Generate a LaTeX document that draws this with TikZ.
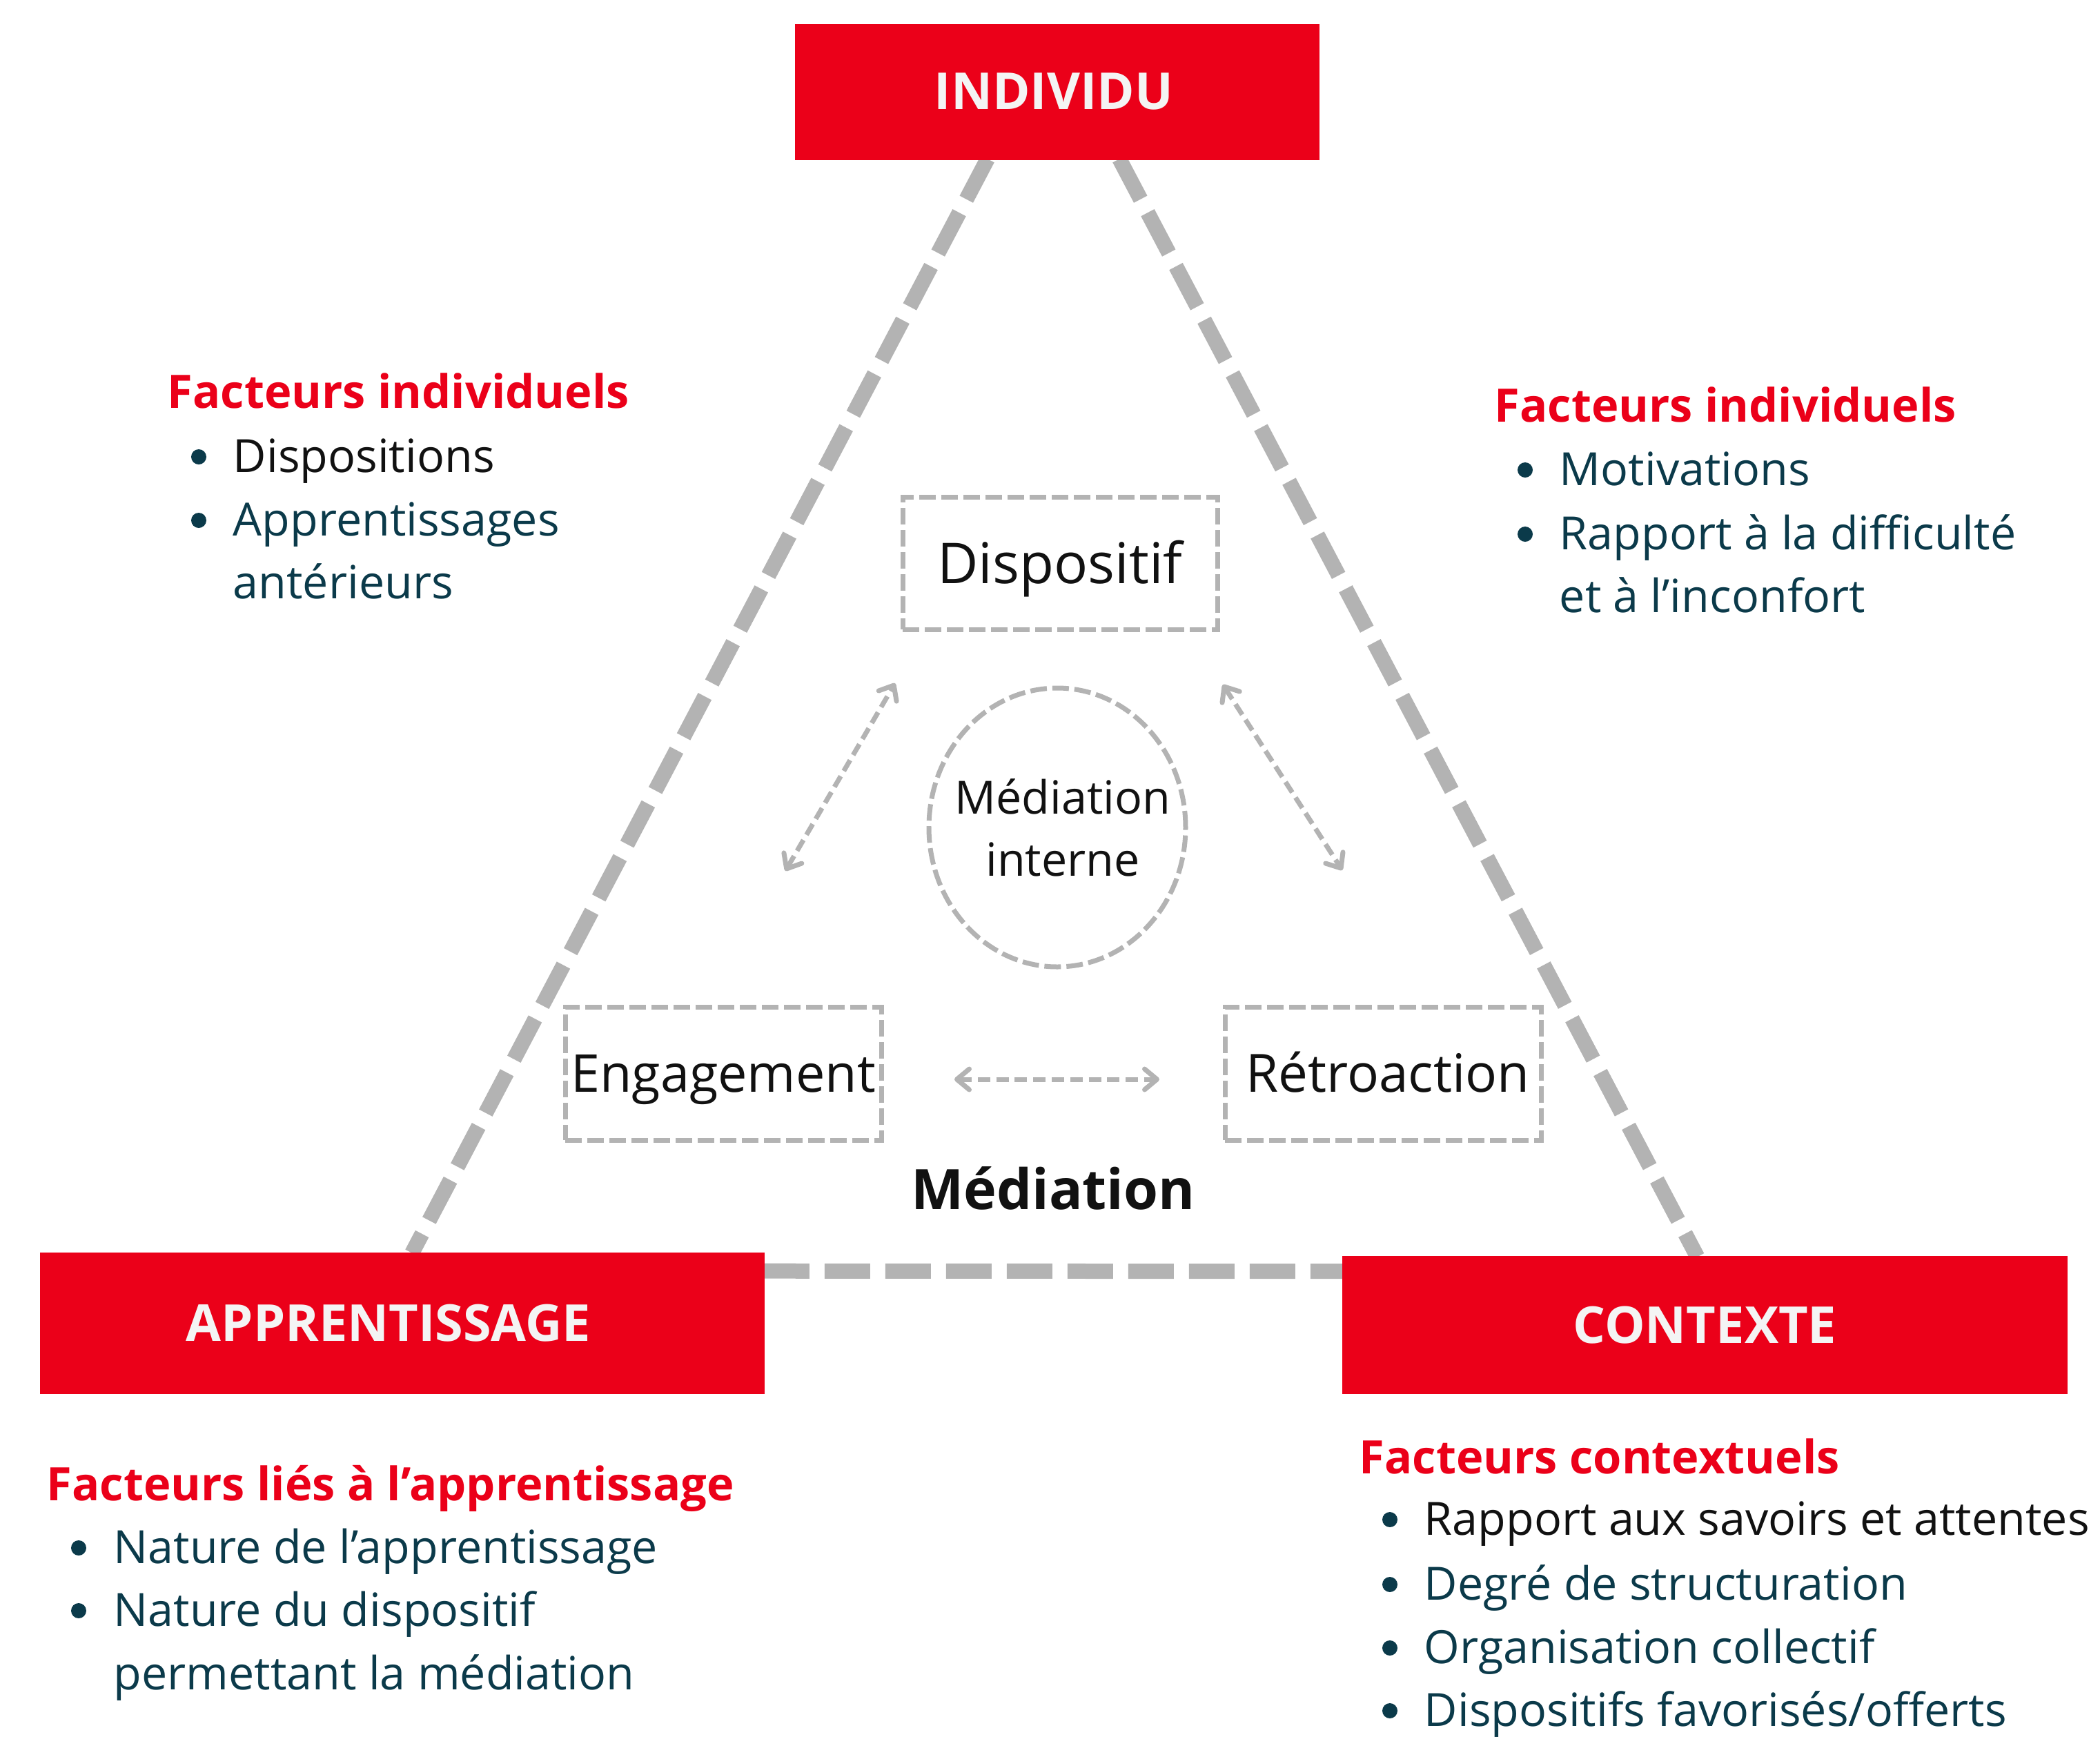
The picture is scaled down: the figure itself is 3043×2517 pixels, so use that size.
\documentclass[tikz,border=0pt]{standalone}
\usepackage{fontspec}
\setmainfont{Open Sans}
\usetikzlibrary{arrows.meta,shapes.geometric,backgrounds,calc}
\definecolor{boxred}{RGB}{235,0,25}
\definecolor{linegray}{RGB}{179,179,179}
\definecolor{itemteal}{RGB}{11,58,74}
\definecolor{txtblack}{RGB}{17,17,17}
\definecolor{hdrwhite}{RGB}{244,244,244}
\begin{document}
\begin{tikzpicture}[x=0.25pt,y=-0.25pt,
  redbox/.style={fill=boxred, inner sep=0pt, text=hdrwhite, font=\fontsize{18.45}{22}\selectfont\bfseries},
  heavy/.style={draw=linegray, line width=5.5pt, dash pattern=on 16.5pt off 5.5pt},
  dashbox/.style={draw=linegray, line width=1.75pt, dash pattern=on 6pt off 2pt, inner sep=0pt, text=txtblack, text depth=0pt},
  link/.style={draw=linegray, line width=1.75pt, dash pattern=on 4.5pt off 2.2pt, {Straight Barb[length=4.5pt,width=7.5pt,round]}-{Straight Barb[length=4.5pt,width=7.5pt,round]}},
  facthead/.style={anchor=base west, inner sep=0pt, text=boxred, font=\fontsize{16.7}{20}\selectfont\bfseries},
  item/.style={anchor=base west, inner sep=0pt, text=itemteal, font=\fontsize{16.6}{20}\selectfont},
  bul/.style={circle, fill=itemteal, inner sep=0pt, minimum size=5.5pt, yshift=5.5pt},
]
\useasboundingbox (0,0) rectangle (3043,2517);

% main boxes
\node[redbox, minimum width=190pt, minimum height=49.25pt] (ind) at (1532,133) {\hspace*{-2.5pt}INDIVIDU};
\node[redbox, minimum width=262.5pt, minimum height=51.25pt] (app) at (583,1917) {\hspace*{-10pt}APPRENTISSAGE};
\node[redbox, minimum width=262.75pt, minimum height=50pt] (ctx) at (2470.5,1920) {CONTEXTE};

% triangle
\begin{scope}[on background layer]
\draw[heavy] ($(ind.south)+(-101,-2)$) -- ($(app.north)+(14,2)$);
\draw[heavy] ($(ind.south)+(90,-2)$) -- ($(ctx.north)+(-11,2)$);
\draw[heavy] ($(app.north east)+(-2,28)$) -- ($(ctx.north west)+(2,23)$);
\end{scope}

% inner elements
\node[dashbox, minimum width=114pt, minimum height=48pt, text height=14.6pt, font=\fontsize{20.4}{24}\selectfont] (disp) at (1536,816) {Dispositif};
\node[dashbox, minimum width=114.5pt, minimum height=48.25pt, text height=13.4pt, font=\fontsize{18.9}{22}\selectfont] (eng) at (1048,1555.5) {Engagement};
\node[dashbox, minimum width=114.5pt, minimum height=48.25pt, text height=13.4pt, font=\fontsize{19.1}{22}\selectfont] (ret) at (2004,1555.5) {Rétroaction\hspace*{-3.5pt}};
\node[draw=linegray, line width=1.75pt, dash pattern=on 6pt off 2pt, ellipse, minimum width=93pt, minimum height=101pt, inner xsep=-8.5pt, inner ysep=0pt, align=center, text=txtblack, font=\fontsize{16.6}{22.5}\selectfont] (med) at (1532,1199) {\hspace*{4pt}Médiation\\\hspace*{4pt}interne};
\node[anchor=base, inner sep=0pt, text=txtblack, font=\fontsize{20.2}{24}\selectfont\bfseries] (medb) at (1526,1752) {Médiation};

% double arrows
\coordinate (la) at (1138,1262);
\coordinate (lb) at (1297,990);
\coordinate (ra) at (1772,992);
\coordinate (rb) at (1945,1261);
\coordinate (ha) at (1383,1564);
\coordinate (hb) at (1680,1564);
\draw[link] (la) -- (lb);
\draw[link] (ra) -- (rb);
\draw[link] (ha) -- (hb);

% top-left factors
\node[facthead] (tlh) at (242,591) {Facteurs individuels};
\node[bul] (tlb1) at (288,684) {};
\node[item, text=txtblack] (tli1) at (337,684) {Dispositions};
\node[bul] (tlb2) at (288,776) {};
\node[item] (tli2) at (337,776) {Apprentissages};
\node[item] (tli3) at (337,867) {antérieurs};

% top-right factors
\node[facthead] (trh) at (2165,611) {Facteurs individuels};
\node[bul] (trb1) at (2210,703) {};
\node[item] (tri1) at (2259,703) {Motivations};
\node[bul] (trb2) at (2210,796) {};
\node[item] (tri2) at (2259,796) {Rapport à la difficulté};
\node[item] (tri3) at (2259,887) {et à l’inconfort};

% bottom-left factors
\node[facthead] (blh) at (67,2174) {Facteurs liés à l’apprentissage};
\node[bul] (blb1) at (114,2265) {};
\node[item] (bli1) at (164,2265) {Nature de l’apprentissage};
\node[bul] (blb2) at (114,2356) {};
\node[item] (bli2) at (164,2356) {Nature du dispositif};
\node[item] (bli3) at (164,2448) {permettant la médiation};

% bottom-right factors
\node[facthead] (brh) at (1969,2135) {Facteurs contextuels};
\node[bul] (brb1) at (2014,2224) {};
\node[item, text=txtblack] (bri1) at (2063,2224) {Rapport aux savoirs et attentes};
\node[bul] (brb2) at (2014,2318) {};
\node[item] (bri2) at (2063,2318) {Degré de structuration};
\node[bul] (brb3) at (2014,2410) {};
\node[item] (bri3) at (2063,2410) {Organisation collectif};
\node[bul] (brb4) at (2014,2501) {};
\node[item] (bri4) at (2063,2501) {Dispositifs favorisés/offerts};
\end{tikzpicture}
\end{document}
